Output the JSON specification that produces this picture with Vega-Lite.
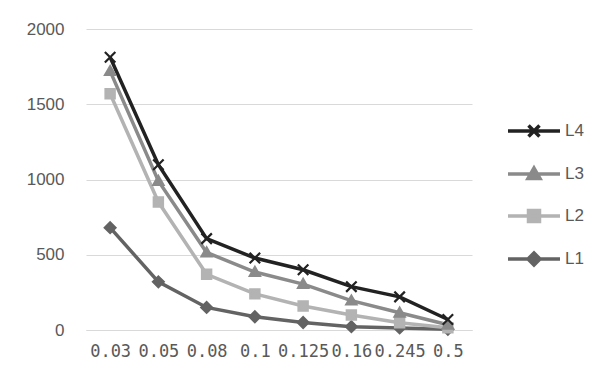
{
  "$schema": "https://vega.github.io/schema/vega-lite/v6.json",
  "width": 386,
  "height": 301,
  "autosize": "none",
  "padding": {"left": 86, "top": 29, "right": 140, "bottom": 56},
  "background": "white",
  "config": {"view": {"stroke": null}, "font": "Liberation Sans"},
  "data": {
    "values": [
      {"x": "0.03", "s": "L1", "v": 680}, {"x": "0.05", "s": "L1", "v": 320}, {"x": "0.08", "s": "L1", "v": 150}, {"x": "0.1", "s": "L1", "v": 88},
      {"x": "0.125", "s": "L1", "v": 50}, {"x": "0.16", "s": "L1", "v": 22}, {"x": "0.245", "s": "L1", "v": 14}, {"x": "0.5", "s": "L1", "v": 5},
      {"x": "0.03", "s": "L2", "v": 1570}, {"x": "0.05", "s": "L2", "v": 850}, {"x": "0.08", "s": "L2", "v": 370}, {"x": "0.1", "s": "L2", "v": 240},
      {"x": "0.125", "s": "L2", "v": 160}, {"x": "0.16", "s": "L2", "v": 100}, {"x": "0.245", "s": "L2", "v": 48}, {"x": "0.5", "s": "L2", "v": 15},
      {"x": "0.03", "s": "L3", "v": 1720}, {"x": "0.05", "s": "L3", "v": 990}, {"x": "0.08", "s": "L3", "v": 515}, {"x": "0.1", "s": "L3", "v": 385},
      {"x": "0.125", "s": "L3", "v": 305}, {"x": "0.16", "s": "L3", "v": 195}, {"x": "0.245", "s": "L3", "v": 115}, {"x": "0.5", "s": "L3", "v": 35},
      {"x": "0.03", "s": "L4", "v": 1812}, {"x": "0.05", "s": "L4", "v": 1098}, {"x": "0.08", "s": "L4", "v": 607}, {"x": "0.1", "s": "L4", "v": 478},
      {"x": "0.125", "s": "L4", "v": 400}, {"x": "0.16", "s": "L4", "v": 288}, {"x": "0.245", "s": "L4", "v": 220}, {"x": "0.5", "s": "L4", "v": 70}
    ]
  },
  "encoding": {
    "x": {
      "field": "x", "type": "ordinal", "sort": null,
      "scale": {"type": "point", "padding": 0.5},
      "axis": {
        "title": null, "labelAngle": 0, "ticks": false, "grid": false,
        "domainColor": "#d9d9d9", "domainWidth": 1,
        "labelFont": "DejaVu Sans Mono", "labelFontSize": 17, "labelColor": "#595959",
        "labelPadding": 13, "labelOverlap": false, "labelBound": false, "labelFlush": false
      }
    },
    "y": {
      "field": "v", "type": "quantitative",
      "scale": {"domain": [0, 2000], "nice": false},
      "axis": {
        "title": null, "values": [0, 500, 1000, 1500, 2000], "format": "d", "ticks": false, "domain": false,
        "gridColor": "#d9d9d9", "gridWidth": 1,
        "labelFontSize": 17, "labelColor": "#595959", "labelPadding": 22
      }
    },
    "color": {
      "field": "s", "type": "nominal",
      "scale": {"domain": ["L4", "L3", "L2", "L1"], "range": ["#222222", "#8a8a8a", "#b3b3b3", "#636363"]},
      "legend": null
    }
  },
  "layer": [
    {
      "mark": {"type": "line", "strokeWidth": 3.5},
      "encoding": {
        "color": {
          "field": "s", "type": "nominal",
          "scale": {"domain": ["L4", "L3", "L2", "L1"], "range": ["#222222", "#8a8a8a", "#b3b3b3", "#636363"]},
          "legend": {
            "title": null, "orient": "none", "legendX": 436, "legendY": 90,
            "symbolSize": 400, "symbolStrokeWidth": 3.5, "rowPadding": 17,
            "labelFontSize": 17, "labelColor": "#595959", "labelOffset": 19,
            "encode": {
              "symbols": {
                "update": {
                  "shape": {"signal": "datum.value == 'L4' ? 'M-2.6,0L2.6,0M-0.55,-0.55L0.55,0.55M-0.55,0.55L0.55,-0.55' : datum.value == 'L3' ? 'M-2.6,0L2.6,0M0,-0.6L0.6,0.45L-0.6,0.45Z' : datum.value == 'L2' ? 'M-2.6,0L2.6,0M-0.55,-0.55L0.55,-0.55L0.55,0.55L-0.55,0.55Z' : 'M-2.6,0L2.6,0M0,-0.6L0.6,0L0,0.6L-0.6,0Z'"},
                  "fill": {"signal": "scale('color', datum.value)"},
                  "strokeWidth": {"value": 3.5},
                  "opacity": {"value": 1}
                }
              }
            }
          }
        }
      }
    },
    {
      "transform": [{"filter": "datum.s == 'L1'"}],
      "mark": {"type": "point", "filled": true, "size": 110, "strokeWidth": 2, "opacity": 1, "stroke": "#636363", "shape": "M0,-1.05L1.05,0L0,1.05L-1.05,0Z"}
    },
    {
      "transform": [{"filter": "datum.s == 'L2'"}],
      "mark": {"type": "point", "filled": true, "size": 110, "strokeWidth": 2, "opacity": 1, "stroke": "#b3b3b3", "shape": "M-0.9,-0.9L0.9,-0.9L0.9,0.9L-0.9,0.9Z"}
    },
    {
      "transform": [{"filter": "datum.s == 'L3'"}],
      "mark": {"type": "point", "filled": true, "size": 110, "strokeWidth": 2, "opacity": 1, "stroke": "#8a8a8a", "shape": "M0,-1L1,0.75L-1,0.75Z"}
    },
    {
      "transform": [{"filter": "datum.s == 'L4'"}],
      "mark": {"type": "point", "filled": true, "size": 110, "strokeWidth": 2.2, "opacity": 1, "stroke": "#222222", "shape": "M-1,-1L1,1M-1,1L1,-1"}
    }
  ]
}
